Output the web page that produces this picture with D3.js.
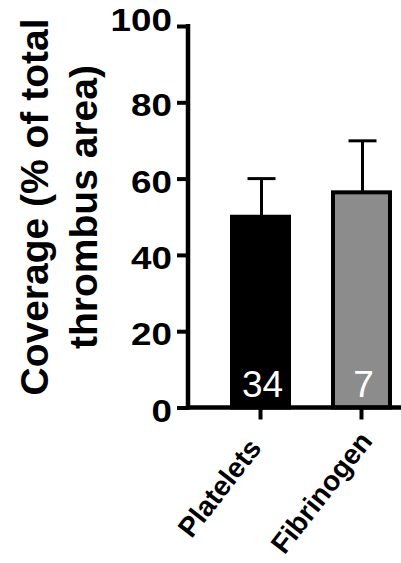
<!DOCTYPE html>
<html>
<head>
<meta charset="utf-8">
<script src="https://cdn.jsdelivr.net/npm/d3@7"></script>
<style>
  html, body { margin: 0; padding: 0; background: #fff; }
  svg { display: block; }
</style>
</head>
<body>
<svg id="chart" width="401" height="563"></svg>
<script>
const categories = ["Platelets", "Fibrinogen"];
const means = [50, 56.4];
const errors = [10, 13.5];
const counts = ["34", "7"];
const fills = ["#000000", "#8c8c8c"];
const yTicks = [0, 20, 40, 60, 80, 100];
const yLabelLines = ["Coverage (% of total", "thrombus area)"];

const W = 401, H = 563;
const svg = d3.select("#chart");
const axisX = 188, axisY = 407.5, topY = 26;

const y = d3.scaleLinear().domain([0, 100]).range([axisY, topY]);
const x = d3.scaleBand().domain(categories).range([axisX, 434]).paddingInner(0.396).paddingOuter(0.416);

const font = "'Liberation Sans', Arial, Helvetica, sans-serif";

// bars
const sw = 4;
svg.append("g").selectAll("rect").data(categories).join("rect")
  .attr("x", d => x(d) + sw / 2)
  .attr("width", x.bandwidth() - sw)
  .attr("y", (d, i) => y(means[i]))
  .attr("height", (d, i) => axisY - y(means[i]))
  .attr("fill", (d, i) => fills[i])
  .attr("stroke", "#000")
  .attr("stroke-width", sw);

// error bars
const eb = svg.append("g").attr("stroke", "#000").attr("stroke-width", 3);
categories.forEach((c, i) => {
  const cx = x(c) + x.bandwidth() / 2 + 1;
  eb.append("line").attr("x1", cx).attr("x2", cx)
    .attr("y1", y(means[i])).attr("y2", y(means[i] + errors[i]));
  eb.append("line").attr("x1", cx - 14).attr("x2", cx + 14)
    .attr("y1", y(means[i] + errors[i])).attr("y2", y(means[i] + errors[i]));
});

// counts
svg.append("g").selectAll("text").data(categories).join("text")
  .attr("x", d => x(d) + x.bandwidth() / 2 + 2)
  .attr("y", axisY - 11)
  .attr("text-anchor", "middle")
  .attr("fill", "#fff")
  .style("font-family", font)
  .style("font-size", "37px")
  .text((d, i) => counts[i]);

// y axis
const yAxis = svg.append("g").attr("transform", `translate(${axisX},0)`)
  .call(d3.axisLeft(y).tickValues(yTicks).tickSize(11).tickSizeOuter(0).tickPadding(0));
yAxis.select(".domain").attr("stroke", "#000").attr("stroke-width", 4.5)
  .attr("d", `M0,${topY - 2}V${axisY + 2}`);
yAxis.selectAll(".tick line").attr("stroke", "#000").attr("stroke-width", 4);
yAxis.selectAll(".tick text")
  .attr("x", null).attr("dy", null)
  .attr("transform", d => `translate(-16,${d === 100 ? 4 : 13.5}) scale(1.15,1)`)
  .attr("text-anchor", "end")
  .attr("fill", "#000")
  .style("font-family", font)
  .style("font-weight", "bold")
  .style("font-size", "32px");

// x axis
const xAxis = svg.append("g").attr("transform", `translate(0,${axisY})`)
  .call(d3.axisBottom(x).tickSize(12).tickSizeOuter(0).tickPadding(0));
xAxis.select(".domain").attr("stroke", "#000").attr("stroke-width", 4.5)
  .attr("d", `M${axisX - 2},0H${W}`);
xAxis.selectAll(".tick line").attr("stroke", "#000").attr("stroke-width", 4).attr("y1", 0);
xAxis.selectAll(".tick text")
  .attr("y", null).attr("dy", null)
  .attr("transform", (d, i) => `translate(${i === 1 ? 12 : 2},${i === 1 ? 34 : 41}) rotate(-52)`)
  .attr("text-anchor", "end")
  .attr("fill", "#000")
  .style("font-family", font)
  .style("font-weight", "bold")
  .style("font-size", "28px");

// y label
const yl = svg.append("text")
  .attr("transform", "translate(48,207) rotate(-90)")
  .attr("text-anchor", "middle")
  .attr("fill", "#000")
  .style("font-family", font)
  .style("font-weight", "bold")
  .style("font-size", "39px");
yLabelLines.forEach((t, i) => {
  yl.append("tspan").attr("x", 0).attr("y", i * 49).text(t);
});
</script>
</body>
</html>
